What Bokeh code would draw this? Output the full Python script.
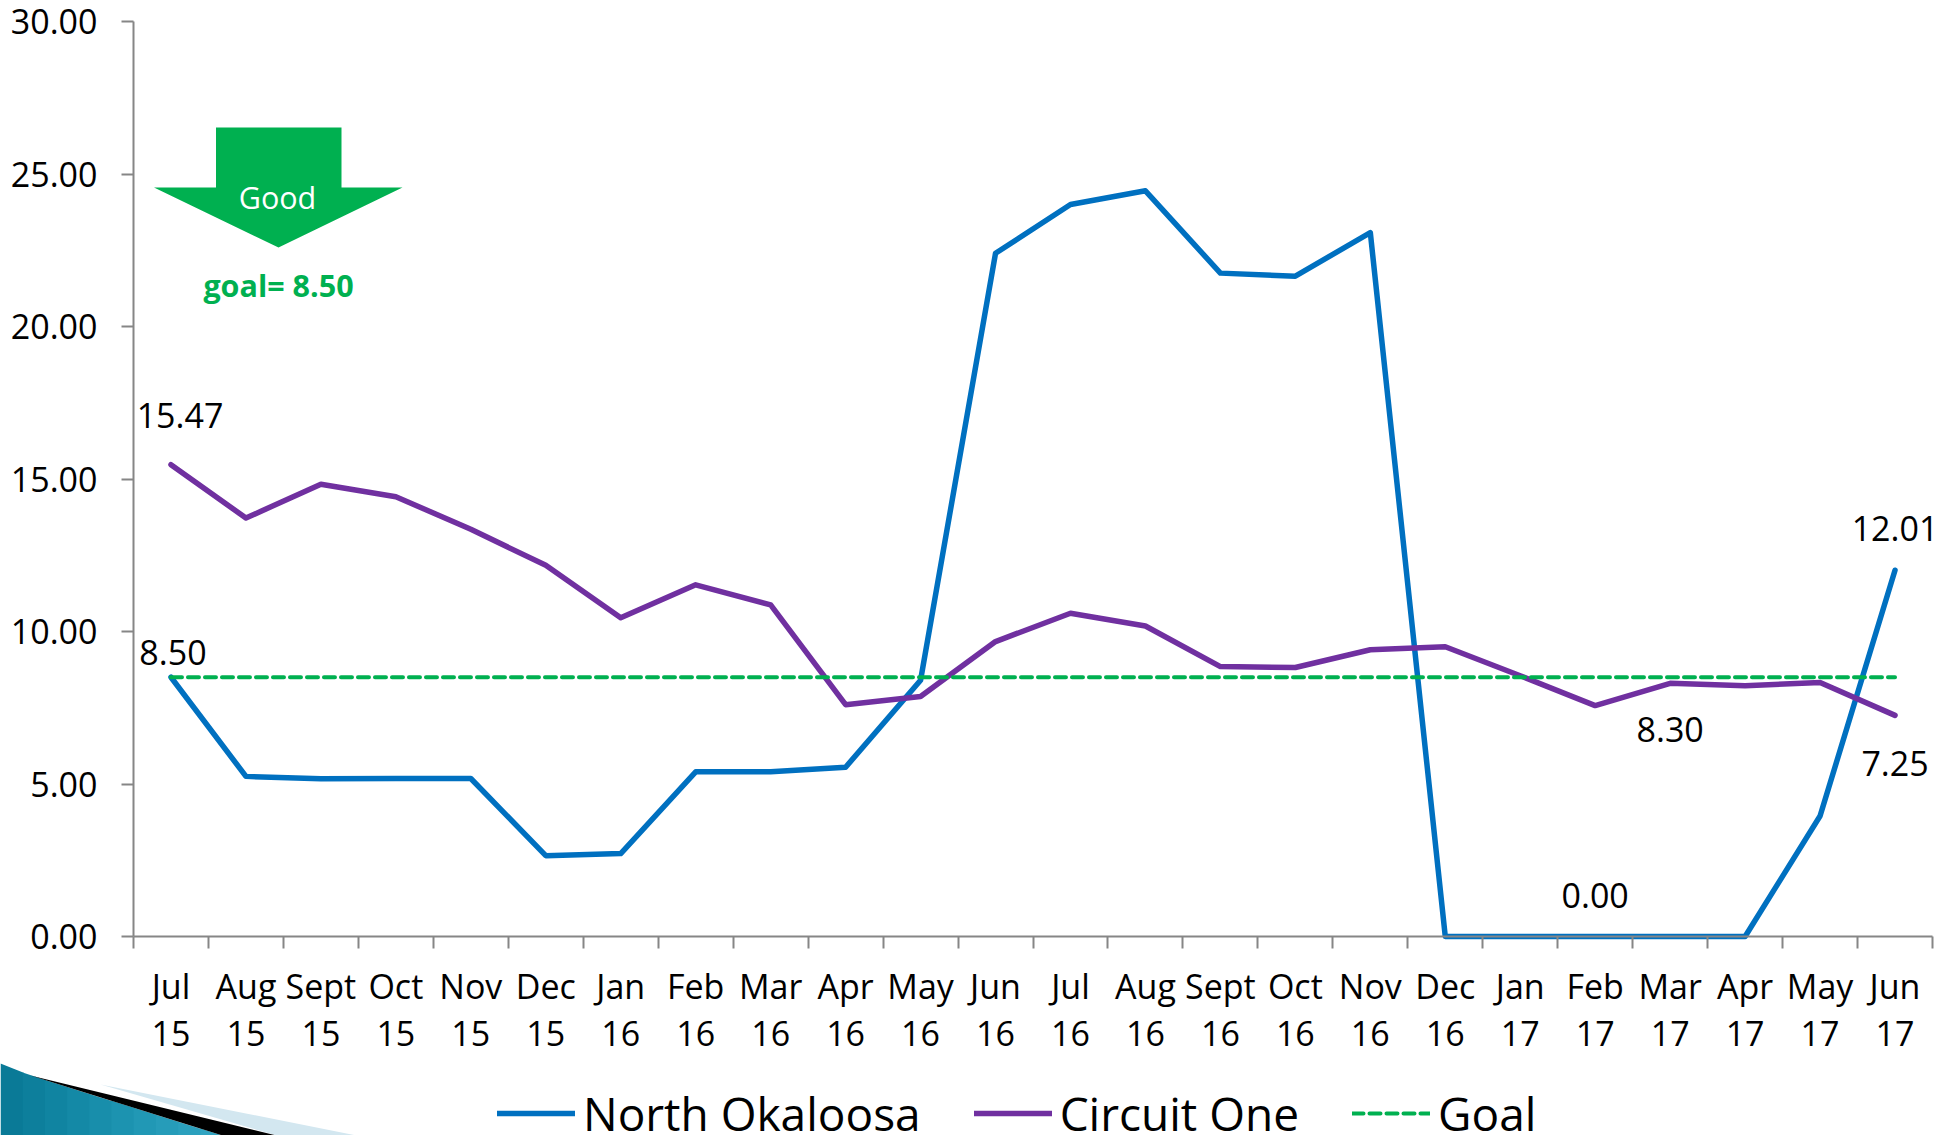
from bokeh.plotting import figure
from bokeh.embed import file_html
from bokeh.resources import INLINE
from bokeh.models import (Range1d, LinearAxis, FixedTicker, Legend, LegendItem,
                          PolyAnnotation, Label)

months = ["Jul","Aug","Sept","Oct","Nov","Dec","Jan","Feb","Mar","Apr","May","Jun",
          "Jul","Aug","Sept","Oct","Nov","Dec","Jan","Feb","Mar","Apr","May","Jun"]
years = ["15"]*6 + ["16"]*12 + ["17"]*6
north_okaloosa = [8.50,5.25,5.17,5.18,5.18,2.65,2.72,5.40,5.40,5.55,8.40,22.40,
                  24.00,24.45,21.75,21.65,23.08,0,0,0,0,0,3.95,12.01]
circuit_one = [15.47,13.72,14.83,14.42,13.35,12.17,10.45,11.53,10.87,7.60,7.87,9.67,
               10.60,10.18,8.85,8.82,9.40,9.50,8.55,7.57,8.30,8.22,8.33,7.25]
goal = [8.50]*24

FONT = "Open Sans"
W, H = 1956, 1135
X0, X1, Y0, Y1 = 133, 1932, 936, 21   # plot area in page pixels
FS = "34px"
GREY = "#868686"

x = list(range(24))
# The frame fills the page so the legend and corner art can sit under the plot area.
px = (X1 - X0) / 24
py = (Y0 - Y1) / 30
x_range = Range1d(-0.5 - X0 / px, 23.5 + (W - X1) / px)
y_range = Range1d(-(H - Y0) / py, 30 + Y1 / py)
p = figure(width=W, height=H, output_backend="svg", toolbar_location=None,
           x_range=x_range, y_range=y_range,
           x_axis_type=None, y_axis_type=None,
           min_border_left=0, min_border_top=0, min_border_right=0, min_border_bottom=0,
           outline_line_color=None, background_fill_color="white")
p.xgrid.visible = False
p.ygrid.visible = False

# corner decoration, bottom-left
p.add_layout(PolyAnnotation(xs=[100, 356, 276], ys=[1084, 1135, 1135],
                            xs_units="canvas", ys_units="canvas", fill_color="#d3e7f0", fill_alpha=1, line_color=None))
teal = ["#0a7a97", "#0d7f9c", "#1084a1", "#1489a6", "#188eab", "#1c93b0",
        "#2198b5", "#269cb9", "#2ba0bd", "#31a4c1"]
def edge(xv):
    return 1063 + 0.4 * xv if xv < 30 else 1075 + 0.3125 * (xv - 30)
step = 222 / len(teal)
for i, col in enumerate(teal):
    a, b = i * step, (i + 1) * step
    b2 = min(b + 1, 222)
    p.add_layout(PolyAnnotation(xs=[a, b2, b2, a], ys=[edge(a), edge(b2), 1135, 1135],
                                xs_units="canvas", ys_units="canvas",
                                fill_color=col, fill_alpha=1, line_color=None))
p.add_layout(PolyAnnotation(xs=[30, 276, 222], ys=[1075, 1135, 1135],
                            xs_units="canvas", ys_units="canvas", fill_color="black", fill_alpha=1, line_color=None))

# y axis
yax = LinearAxis(ticker=FixedTicker(ticks=[0,5,10,15,20,25,30]), fixed_location=-0.5, bounds=(0, 30))
yax.major_label_overrides = {v: f"{v:.2f}" for v in [0,5,10,15,20,25,30]}
yax.major_label_text_font = FONT
yax.major_label_text_font_size = FS
yax.major_label_text_color = "black"
yax.major_label_standoff = 24
yax.axis_line_color = GREY; yax.axis_line_width = 2
yax.major_tick_line_color = GREY; yax.major_tick_line_width = 2
yax.major_tick_out = 12; yax.major_tick_in = 0
yax.minor_tick_line_color = None
p.add_layout(yax, "left")

def label_axis(labels, standoff):
    a = LinearAxis(ticker=FixedTicker(ticks=x), fixed_location=0)
    a.major_label_overrides = {i: s for i, s in enumerate(labels)}
    a.major_label_text_font = FONT
    a.major_label_text_font_size = FS
    a.major_label_text_color = "black"
    a.major_label_standoff = standoff
    a.axis_line_color = None
    a.major_tick_line_color = None
    a.minor_tick_line_color = None
    a.major_tick_out = 0; a.major_tick_in = 0
    return a

# boundary ticks between months
tax = LinearAxis(ticker=FixedTicker(ticks=[i - 0.5 for i in range(25)]), fixed_location=0, bounds=(-0.5, 23.5))
tax.major_label_text_font_size = "0px"
tax.major_label_text_color = None
tax.axis_line_color = GREY; tax.axis_line_width = 2
tax.major_tick_line_color = GREY; tax.major_tick_line_width = 2
tax.major_tick_out = 12; tax.major_tick_in = 0
tax.minor_tick_line_color = None
p.add_layout(tax, "below")
p.add_layout(label_axis(months, 26), "below")
p.add_layout(label_axis(years, 84), "below")

r1 = p.line(x, north_okaloosa, line_color="#0070C0", line_width=5.5, line_cap="round", line_join="round")
r2 = p.line(x, circuit_one, line_color="#7030A0", line_width=5.5, line_cap="round", line_join="round")
r3 = p.line(x, goal, line_color="#00B050", line_width=4, line_dash="11 6", line_cap="round")

def tag(i, series, text, dx, dy):
    p.add_layout(Label(x=i, y=series[i], text=text, x_offset=dx, y_offset=dy,
                       text_font=FONT, text_font_size=FS, text_color="black",
                       text_align="center", text_baseline="middle"))
tag(0, circuit_one, "15.47", 9, 49)
tag(0, goal, "8.50", 2, 25)
tag(23, north_okaloosa, "12.01", 0, 42)
tag(20, circuit_one, "8.30", 0, -46)
tag(23, circuit_one, "7.25", 0, -48)
tag(19, north_okaloosa, "0.00", 0, 41)

leg = Legend(items=[LegendItem(label="North Okaloosa", renderers=[r1]),
                    LegendItem(label="Circuit One", renderers=[r2]),
                    LegendItem(label="Goal", renderers=[r3])],
             orientation="horizontal", location=(497, -9),
             label_text_font=FONT, label_text_font_size="46px", label_text_color="black",
             glyph_width=78, glyph_height=10, label_standoff=8, spacing=53,
             padding=0, margin=0, border_line_color=None, background_fill_color=None)
p.add_layout(leg, "center")

# "Good" arrow
ax_ = [215.5, 341, 341, 402, 278, 153.5, 215.5]
ay_ = [127, 127, 187, 187, 247, 187, 187]
p.add_layout(PolyAnnotation(xs=ax_, ys=ay_, xs_units="canvas", ys_units="canvas",
                            fill_color="#00B050", fill_alpha=1, line_color=None))
p.add_layout(Label(x=277, y=196, x_units="canvas", y_units="canvas", text="Good",
                   text_font=FONT, text_font_size="30.5px", text_color="white",
                   text_align="center", text_baseline="middle"))
p.add_layout(Label(x=278, y=284, x_units="canvas", y_units="canvas", text="goal= 8.50",
                   text_font=FONT, text_font_size="30.5px", text_font_style="bold", text_color="#00B050",
                   text_align="center", text_baseline="middle"))

open("out.html", "w").write(file_html(p, INLINE))
